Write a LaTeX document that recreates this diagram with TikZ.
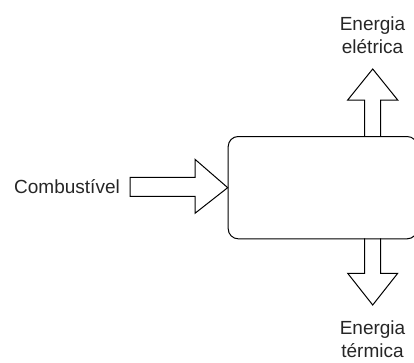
\documentclass[tikz,border=0pt]{standalone}
\usepackage{fontspec}
\setmainfont{Liberation Sans}
\begin{document}
\begin{tikzpicture}[x=1pt,y=-1pt,
  outline/.style={draw=black,line width=1pt,line join=miter},
  label/.style={font=\fontsize{19}{23.5}\selectfont,align=center,inner sep=0pt,text=black!85}]
\useasboundingbox (0,0) rectangle (414,362);
% central block (right side runs past the page edge)
\node[outline,rounded corners=10pt,minimum width=189pt,minimum height=102.3pt,anchor=north west,inner sep=0pt] (unit) at (227.7,136) {};
% fuel input arrow
\draw[outline] (130,177.3) -- (195,177.3) -- (195,159.3) -- (unit.west) -- (195,213.3) -- (195,196.3) -- (130,196.3) -- cycle;
% electric output arrow
\draw[outline] (364.7,136) -- (364.7,100) -- (347.7,100) -- (372.7,69) -- (397.7,100) -- (380.7,100) -- (380.7,136);
% thermal output arrow
\draw[outline] (364.7,238.3) -- (364.7,273.3) -- (347.7,273.3) -- (372.7,305) -- (397.7,273.3) -- (380.7,273.3) -- (380.7,238.3);
\node[label,anchor=east] (fuel) at (120,187) {Combustível};
\node[label] (elec) at (372.5,35) {Energia\\elétrica};
\node[label,anchor=south] (heat) at (372.5,358) {Energia\\térmica};
\end{tikzpicture}
\end{document}
